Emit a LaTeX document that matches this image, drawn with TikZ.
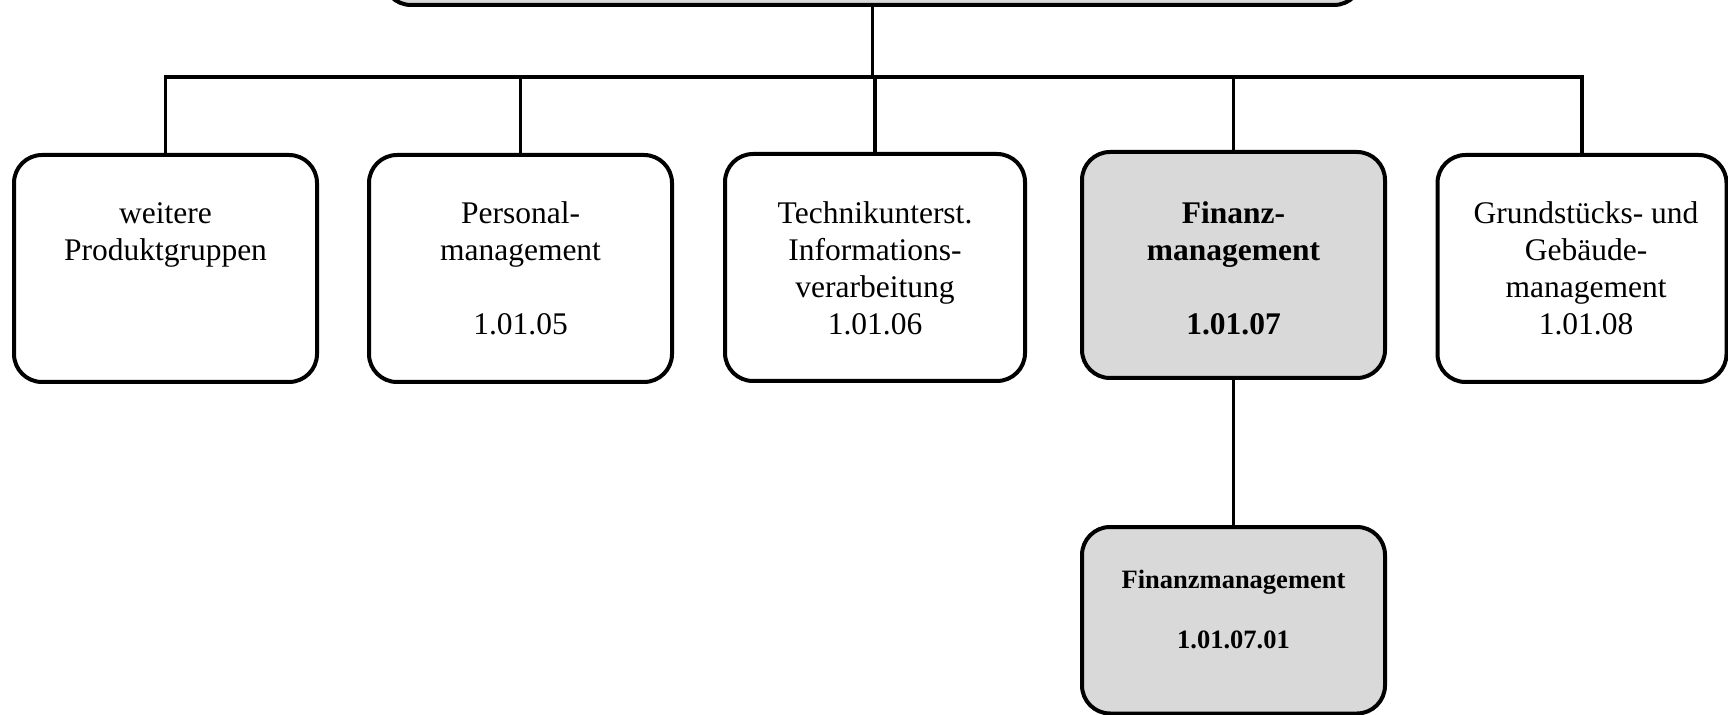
\documentclass[tikz,border=0pt]{standalone}
\usepackage{fontspec}
\setmainfont{Liberation Serif}
\definecolor{boxgray}{HTML}{D9D9D9}
\begin{document}
\begin{tikzpicture}[x=0.5pt,y=-0.5pt,
  box/.style={draw=black, line width=2pt, rounded corners=14pt, inner sep=0pt,
              minimum width=151.5pt, minimum height=113.5pt},
  shade/.style={fill=boxgray},
  lbl/.style={anchor=north, inner sep=0pt, align=center,
              font=\fontsize{15.75pt}{18.5pt}\selectfont},
  lblbold/.style={lbl, font=\fontsize{15.75pt}{18.5pt}\selectfont\bfseries},
  lblsmall/.style={anchor=north, inner sep=0pt, align=center,
              font=\fontsize{13.25pt}{15pt}\selectfont\bfseries},
  conn/.style={line width=1.6pt, line join=miter}]
\useasboundingbox (0,0) rectangle (1728,715);
\clip (0,0) rectangle (1728,715);

% boxes
\node[box, shade, minimum width=489.5pt, minimum height=110pt] (top) at (872.5,-105) {};
\node[box] (b1) at (165.5,268.5) {};
\node[box] (b2) at (520.5,268.5) {};
\node[box, minimum width=150pt] (b3) at (875,267.5) {};
\node[box, shade, minimum height=113pt] (b4) at (1233.5,265) {};
\node[box, minimum width=144.5pt] (b5) at (1582,268.5) {};
\node[box, shade, minimum height=93.25pt] (s1) at (1233.5,620.25) {};

% connectors
\coordinate (bus) at (0,77);
\draw[conn] (top.south) -- (top.south |- bus);
\draw[conn] (b1.north) -- (b1.north |- bus) -- (b5.north |- bus) -- (b5.north);
\draw[conn] (b2.north) -- (b2.north |- bus);
\draw[conn] (b3.north) -- (b3.north |- bus);
\draw[conn] (b4.north) -- (b4.north |- bus);
\draw[conn] (b4.south) -- (s1.north);

% texts
\node[lbl] (t1) at (165.5,199) {\rule{0pt}{12pt}weitere\\Produktgruppen};
\node[lbl] (t2) at (520.5,199) {\rule{0pt}{12pt}Personal-\\management\\[18.5pt]1.01.05};
\node[lbl] (t3) at (875,199) {\rule{0pt}{12pt}Technikunterst.\\Informations-\\verarbeitung\\1.01.06};
\node[lblbold] (t4) at (1233.5,199) {\rule{0pt}{12pt}Finanz-\\management\\[18.5pt]1.01.07};
\node[lbl] (t5) at (1586,199) {\rule{0pt}{12pt}Grundstücks- und\\Gebäude-\\management\\1.01.08};
\node[lblsmall] (t6) at (1233.5,568) {\rule{0pt}{10pt}Finanzmanagement\\[15pt]1.01.07.01};
\end{tikzpicture}
\end{document}
